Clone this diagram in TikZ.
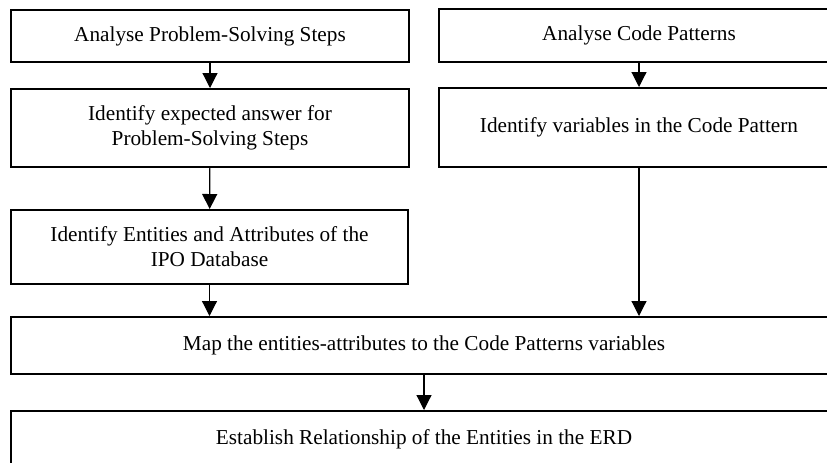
\documentclass[tikz,border=0pt]{standalone}
\usepackage{fontspec}
\setmainfont{Liberation Serif}
\usetikzlibrary{positioning,arrows.meta}

\begin{document}
\begin{tikzpicture}[x=0.6pt,y=-0.6pt,
    stepbox/.style={draw, line width=1.2pt, inner sep=0pt, align=center,
      font=\fontsize{12.75}{15}\selectfont},
    flow/.style={line width=0.7pt, -{Triangle[length=9pt,width=9pt]}}]
    \useasboundingbox (0,0) rectangle (827,462);
    \clip (0,0) rectangle (827,462);

    % Problem-solving side
    \node[stepbox, minimum width=238.8pt, minimum height=31.2pt] (analyseps) at (210,36) {Analyse Problem-Solving Steps};
    \node[stepbox, minimum width=238.8pt, minimum height=46.8pt] (answer) at (210,128) {Identify expected answer for\\Problem-Solving Steps};
    \node[stepbox, minimum width=238.2pt, minimum height=44.4pt] (entities) at (209.5,247) {Identify Entities and Attributes of the\\IPO Database};

    % Code pattern side
    \node[stepbox, minimum width=240pt, minimum height=31.8pt] (analysecp) at (639,35.5) {Analyse Code Patterns};
    \node[stepbox, minimum width=240pt, minimum height=47.4pt] (variables) at (639,127.5) {Identify variables in the Code Pattern};

    % Joined steps
    \node[stepbox, minimum width=495.6pt, minimum height=34.2pt] (mapping) at (424,345.5) {Map the entities-attributes to the Code Patterns variables};
    \node[stepbox, minimum width=495.6pt, minimum height=34.2pt] (erd) at (424,439.5) {Establish Relationship of the Entities in the ERD};

    % Arrows
    \draw[flow] (analyseps) -- (answer);
    \draw[flow] (answer) -- (entities);
    \draw[flow] (entities.south) -- (entities.south |- mapping.north);
    \draw[flow] (analysecp) -- (variables);
    \draw[flow] (variables.south) -- (variables.south |- mapping.north);
    \draw[flow] (mapping) -- (erd);
  \end{tikzpicture}
\end{document}
